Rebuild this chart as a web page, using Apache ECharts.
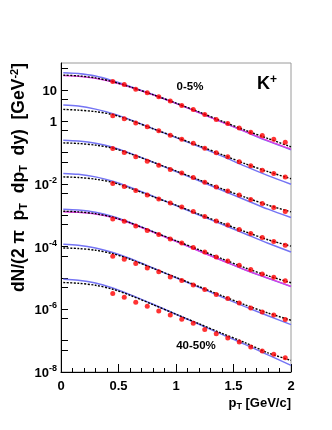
<!DOCTYPE html>
<html>
<head>
<meta charset="utf-8">
<script src="https://cdn.jsdelivr.net/npm/echarts@6/dist/echarts.min.js"></script>
<style>
html,body{margin:0;padding:0;background:#fff;}
#c{width:332px;height:430px;}
</style>
</head>
<body>
<div id="c"></div>
<script>
// ---- data ----
const centralities = ['0-5%','5-10%','10-15%','15-20%','20-30%','30-40%','40-50%'];
const ptData = [0.45,0.55,0.65,0.75,0.85,0.95,1.05,1.15,1.25,1.35,1.45,1.55,1.65,1.75,1.85,1.95];
const ptCurve = [0.02,0.15,0.3,0.45,0.6,0.8,1.0,1.2,1.4,1.6,1.8,2.0];

const data1 = [18.5,14.9,10.5,8.0,5.98,4.36,3.18,2.37,1.64,1.14,0.847,0.60,0.447,0.351,0.267,0.214];
const data2 = [1.48,1.19,0.866,0.659,0.491,0.358,0.267,0.199,0.138,0.0975,0.0727,0.0503,0.0375,0.0273,0.0215,0.0167];
const data3 = [0.135,0.101,0.0727,0.053,0.0395,0.0288,0.0224,0.016,0.0113,0.00802,0.00597,0.00445,0.00318,0.00237,0.00176,0.00131];
const data4 = [0.0103,0.00826,0.00615,0.00445,0.00332,0.00247,0.00184,0.00131,0.00091,0.000659,0.000491,0.00035,0.000261,0.000195,0.000145,0.00011];
const data5 = [7.64e-4,6.44e-4,4.56e-4,3.25e-4,2.42e-4,1.75e-4,1.31e-4,9.33e-5,6.75e-5,4.67e-5,3.48e-5,2.54e-5,1.85e-5,1.33e-5,1.05e-5,8.13e-6];
const data6 = [4.92e-5,3.94e-5,2.88e-5,2.08e-5,1.57e-5,1.07e-5,8.24e-6,5.97e-6,4.26e-6,2.95e-6,2.2e-6,1.59e-6,1.1e-6,8.2e-7,6.58e-7,4.69e-7];
const data7 = [3.17e-6,2.41e-6,1.67e-6,1.25e-6,8.81e-7,6.58e-7,4.79e-7,3.57e-7,2.26e-7,1.67e-7,1.21e-7,9.03e-8,6.25e-8,4.66e-8,3.66e-8,2.87e-8];

const black1 = [29.4,27.8,24.0,18.2,12.4,6.98,3.76,1.97,1.00,0.518,0.279,0.152];
const blue1  = [34.9,32.9,27.4,19.4,12.9,7.08,3.71,1.88,0.931,0.463,0.230,0.123];
const magenta1 = [28.4,27.0,23.3,17.6,12.2,6.88,3.66,1.86,0.931,0.473,0.239,0.128];
const black2 = [2.37,2.25,2.01,1.62,1.08,0.573,0.309,0.164,0.0855,0.0441,0.0245,0.0146];
const blue2  = [3.25,3.02,2.42,1.74,1.12,0.577,0.298,0.154,0.0766,0.0367,0.0183,0.00977];
const black3 = [0.203,0.194,0.172,0.138,0.0918,0.0492,0.0258,0.0135,0.00697,0.00376,0.00209,0.00128];
const blue3  = [0.248,0.234,0.199,0.148,0.0953,0.0492,0.0248,0.0126,0.00628,0.00313,0.00156,0.000845];
const black4 = [0.0167,0.016,0.0141,0.0111,0.00728,0.0039,0.00209,0.00108,0.000564,0.0003,0.000165,0.000103];
const blue4  = [0.0215,0.0201,0.0167,0.0122,0.00784,0.00405,0.00204,0.00102,0.000517,0.000257,0.000128,6.75e-5];
const black5 = [1.34e-3,1.28e-3,1.12e-3,8.65e-4,5.77e-4,2.98e-4,1.54e-4,7.93e-5,4.09e-5,2.11e-5,1.17e-5,7.02e-6];
const blue5  = [1.56e-3,1.47e-3,1.25e-3,9.1e-4,5.85e-4,2.98e-4,1.48e-4,7.36e-5,3.66e-5,1.82e-5,9.77e-6,5.31e-6];
const magenta5 = [1.29e-3,1.23e-3,1.08e-3,8.34e-4,5.56e-4,2.87e-4,1.45e-4,7.21e-5,3.59e-5,1.82e-5,9.91e-6,5.42e-6];
const black6 = [9.05e-5,8.67e-5,7.65e-5,5.91e-5,3.95e-5,2.04e-5,1.04e-5,5.31e-6,2.70e-6,1.39e-6,7.62e-7,4.46e-7];
const blue6  = [1.19e-4,1.10e-4,8.99e-5,6.46e-5,4.16e-5,2.07e-5,1.01e-5,5.04e-6,2.45e-6,1.22e-6,6.2e-7,3.24e-7];
const black7 = [7.13e-6,6.76e-6,5.84e-6,4.35e-6,2.80e-6,1.41e-6,6.93e-7,3.45e-7,1.71e-7,8.65e-8,4.08e-8,2.35e-8];
const blue7  = [9.08e-6,8.43e-6,6.87e-6,4.75e-6,2.94e-6,1.45e-6,6.93e-7,3.32e-7,1.59e-7,7.64e-8,3.53e-8,1.63e-8];

const xTickLabels = ['0','0.5','1','1.5','2'];
const yTickValues = [1e-8,5e-8,1e-7,5e-7,1e-6,5e-6,1e-5,5e-5,1e-4,5e-4,1e-3,5e-3,1e-2,5e-2,1e-1,5e-1,1,5,10,50];
const yLabelValues = [1e-8,1e-6,1e-4,1e-2,1,10];

// ---- chart ----
const FONT = '"Liberation Sans", Arial, Helvetica, sans-serif';
const sets = [
  {d:data1, bk:black1, bl:blue1, mg:magenta1},
  {d:data2, bk:black2, bl:blue2},
  {d:data3, bk:black3, bl:blue3},
  {d:data4, bk:black4, bl:blue4},
  {d:data5, bk:black5, bl:blue5, mg:magenta5},
  {d:data6, bk:black6, bl:blue6},
  {d:data7, bk:black7, bl:blue7}
];
const pair = (xs, ys) => xs.map((x,i)=>[x, ys[i]]);
const series = [];
sets.forEach((s, k) => {
  series.push({type:'line', name:'blue'+k, data:pair(ptCurve, s.bl), smooth:0.3, showSymbol:false, silent:true,
    lineStyle:{color:'#7474f4', width:1.5}, z:2});
  if (s.mg) series.push({type:'line', name:'mag'+k, data:pair(ptCurve, s.mg), smooth:0.3, showSymbol:false, silent:true,
    lineStyle:{color:'#e03ce0', width:1.3}, z:3});
  series.push({type:'line', name:'black'+k, data:pair(ptCurve, s.bk), smooth:0.3, showSymbol:false, silent:true,
    lineStyle:{color:'#000', width:1.4, type:[2,1.5]}, z:4});
  series.push({type:'scatter', name:centralities[k], data:pair(ptData, s.d), symbol:'circle', symbolSize:5,
    itemStyle:{color:'#ff0000'}, z:5});
});

const chart = echarts.init(document.getElementById('c'), null, {renderer:'canvas'});
chart.setOption({
  animation:false,
  backgroundColor:'#fff',
  grid:{left:61, right:41, top:63, bottom:58, show:true, borderColor:'#9a9a9a', borderWidth:1, backgroundColor:'transparent'},
  xAxis:{type:'value', min:0, max:2, interval:0.5,
    axisLine:{show:true, lineStyle:{color:'#000', width:1}},
    axisTick:{show:true, inside:true, length:8, lineStyle:{color:'#000'}},
    minorTick:{show:true, splitNumber:5, length:4, lineStyle:{color:'#000'}},
    splitLine:{show:false},
    axisLabel:{margin:8, color:'#000', fontFamily:FONT, fontWeight:'bold', fontSize:13,
      formatter:(v)=> xTickLabels[Math.round(v/0.5)]}
  },
  yAxis:{type:'log', logBase:10, min:1e-8, max:71.6,
    axisLine:{show:true, onZero:false, lineStyle:{color:'#000', width:1}},
    axisTick:{show:true, inside:true, length:7, lineStyle:{color:'#000'}, customValues:yTickValues},
    splitLine:{show:false},
    axisLabel:{margin:4, color:'#000', fontFamily:FONT, fontWeight:'bold', fontSize:13,
      customValues:yLabelValues,
      formatter:(v)=>{
        const e = Math.round(Math.log10(v));
        if (e===1) return '{b|10}';
        if (e===0) return '{b|1}';
        return '{b|10}{s|'+e+'}';
      },
      rich:{
        b:{fontFamily:FONT, fontWeight:'bold', fontSize:13, color:'#000', lineHeight:16, verticalAlign:'bottom'},
        s:{fontFamily:FONT, fontWeight:'bold', fontSize:9, color:'#000', lineHeight:16, verticalAlign:'top', padding:[0,0,7,0]}
      }
    }
  },
  series: series,
  graphic:[
    {type:'text', x:19, y:63, rotation:Math.PI/2, z:10,
      style:{text:'dN/(2 π  p{sub|T}  dp{sub|T}  dy)  [GeV{sup|-2}]', fill:'#000', font:'bold 17.5px '+FONT,
        align:'right', verticalAlign:'middle',
        rich:{
          sub:{fontFamily:FONT, fontWeight:'bold', fontSize:11, fill:'#000', verticalAlign:'bottom', padding:[9,0,0,0]},
          sup:{fontFamily:FONT, fontWeight:'bold', fontSize:11, fill:'#000', verticalAlign:'top', padding:[0,0,9,0]}
        }}},
    {type:'text', x:291, y:403, z:10,
      style:{text:'p{sub|T} [GeV/c]', fill:'#000', font:'bold 13px '+FONT, align:'right', verticalAlign:'middle',
        rich:{sub:{fontFamily:FONT, fontWeight:'bold', fontSize:9, fill:'#000', verticalAlign:'bottom', padding:[7,0,0,0]}}}},
    {type:'text', x:190, y:87, z:10,
      style:{text:centralities[0], fill:'#000', font:'bold 11.5px '+FONT, align:'center', verticalAlign:'middle'}},
    {type:'text', x:196, y:346, z:10,
      style:{text:centralities[6], fill:'#000', font:'bold 11.5px '+FONT, align:'center', verticalAlign:'middle'}},
    {type:'text', x:257, y:84, z:10,
      style:{text:'K{sup|+}', fill:'#000', font:'bold 18px '+FONT, align:'left', verticalAlign:'middle',
        rich:{sup:{fontFamily:FONT, fontWeight:'bold', fontSize:12, fill:'#000', verticalAlign:'top', padding:[0,0,9,0]}}}}
  ]
});
</script>
</body>
</html>
